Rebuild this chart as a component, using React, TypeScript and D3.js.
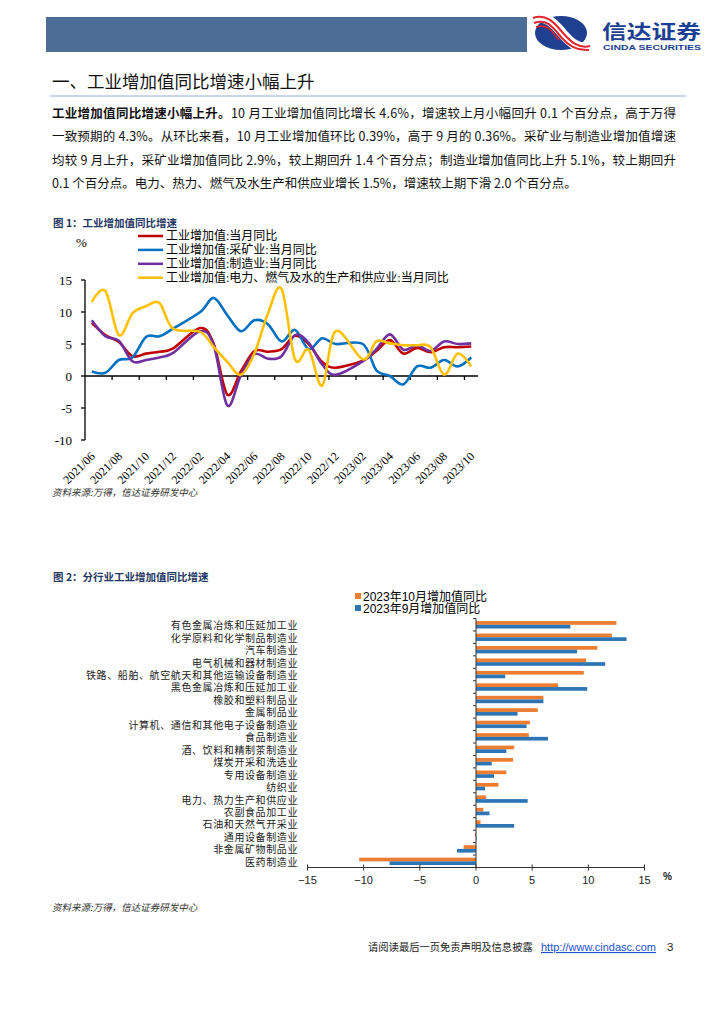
import React from 'react';
import * as d3 from 'd3';

const months = [
  '2021/06','2021/07','2021/08','2021/09','2021/10','2021/11','2021/12',
  '2022/01','2022/02','2022/03','2022/04','2022/05','2022/06','2022/07','2022/08','2022/09','2022/10','2022/11','2022/12',
  '2023/01','2023/02','2023/03','2023/04','2023/05','2023/06','2023/07','2023/08','2023/09','2023/10'
];
const yTicks1 = [-10, -5, 0, 5, 10, 15];

const totalYoY: (number | null)[] = [8.3,6.4,5.3,3.1,3.5,3.8,4.3,null,7.5,5.0,-2.9,0.7,3.9,3.8,4.2,6.3,5.0,2.2,1.3,null,2.4,3.9,5.6,3.5,4.4,3.7,4.5,4.5,4.6];
const miningYoY: (number | null)[] = [0.7,0.5,2.5,2.9,6.1,6.2,7.4,null,10.0,12.2,9.5,7.0,8.7,8.1,5.4,7.2,4.2,5.9,5.0,null,5.0,0.9,0.0,-1.3,1.5,1.3,2.5,1.5,2.9];
const manufYoY: (number | null)[] = [8.7,6.2,5.5,2.3,2.5,2.9,3.6,null,7.0,4.8,-4.6,0.1,3.4,2.7,3.1,6.4,5.2,1.8,0.2,null,2.3,4.2,6.5,4.1,4.8,3.9,5.4,5.0,5.1];
const utilYoY: (number | null)[] = [11.6,13.3,6.4,9.8,10.9,11.4,7.4,null,6.9,4.5,2.2,0.2,3.5,9.8,13.6,2.6,4.1,-1.5,7.0,null,2.6,5.4,5.1,4.8,4.8,4.5,0.2,3.5,1.5];

const seriesNames1 = [
  '工业增加值:当月同比',
  '工业增加值:采矿业:当月同比',
  '工业增加值:制造业:当月同比',
  '工业增加值:电力、燃气及水的生产和供应业:当月同比'
];
const seriesColors1 = ['#C00000', '#0070C0', '#7030A0', '#FFC000'];

const industries = [
  '有色金属冶炼和压延加工业',
  '化学原料和化学制品制造业',
  '汽车制造业',
  '电气机械和器材制造业',
  '铁路、船舶、航空航天和其他运输设备制造业',
  '黑色金属冶炼和压延加工业',
  '橡胶和塑料制品业',
  '金属制品业',
  '计算机、通信和其他电子设备制造业',
  '食品制造业',
  '酒、饮料和精制茶制造业',
  '煤炭开采和洗选业',
  '专用设备制造业',
  '纺织业',
  '电力、热力生产和供应业',
  '农副食品加工业',
  '石油和天然气开采业',
  '通用设备制造业',
  '非金属矿物制品业',
  '医药制造业'
];
const octValues = [12.5,12.1,10.8,9.8,9.6,7.3,6.0,5.5,4.8,4.7,3.4,3.3,2.7,2.0,0.9,0.65,0.4,-0.1,-1.1,-10.4];
const sepValues = [8.4,13.4,9.0,11.5,2.6,9.9,6.0,3.7,4.5,6.4,2.7,1.4,1.6,0.8,4.6,1.2,3.4,0.05,-1.7,-7.7];
const legend2 = ['2023年10月增加值同比', '2023年9月增加值同比'];
const colors2 = ['#ED7D31', '#2E75B6'];
const xTicks2 = [-15, -10, -5, 0, 5, 10, 15];

const paraLines = [
  '10 月工业增加值同比增长 4.6%，增速较上月小幅回升 0.1 个百分点，高于万得',
  '一致预期的 4.3%。从环比来看，10 月工业增加值环比 0.39%，高于 9 月的 0.36%。采矿业与制造业增加值增速',
  '均较 9 月上升，采矿业增加值同比 2.9%，较上期回升 1.4 个百分点；制造业增加值同比上升 5.1%，较上期回升',
  '0.1 个百分点。电力、热力、燃气及水生产和供应业增长 1.5%，增速较上期下滑 2.0 个百分点。'
];

const CJK = '"Noto Sans CJK SC", sans-serif';
const SERIF = '"Liberation Serif", "Noto Sans CJK SC", serif';
const SANS = '"Liberation Sans", "Noto Sans CJK SC", sans-serif';

export default function App() {
  // Chart 1 scales
  const x1 = d3.scaleBand<string>().domain(months).range([85, 478]).padding(0);
  const bw = x1.bandwidth();
  const cx = (i: number) => (x1(months[i]) as number) + bw / 2;
  const y1 = d3.scaleLinear().domain([-10, 15]).range([440, 280]);
  const lineGen = d3.line<[number, number]>().x(d => d[0]).y(d => d[1]).curve(d3.curveCatmullRom.alpha(0));
  const mkPath = (vals: (number | null)[]) => {
    const pts: [number, number][] = [];
    vals.forEach((v, i) => { if (v !== null) pts.push([cx(i), y1(v)]); });
    return lineGen(pts) || '';
  };
  const series1 = [totalYoY, miningYoY, manufYoY, utilYoY];

  // Chart 2 scales
  const x2 = d3.scaleLinear().domain([-15, 15]).range([307.5, 644.5]);
  const y2 = d3.scaleBand<string>().domain(industries).range([618.5, 867.5]);
  const bw2 = y2.bandwidth();

  const paraY = [117.5, 141, 164.5, 188];

  return (
    <svg width={724} height={1024} style={{ position: 'absolute', left: 0, top: 0, background: '#fff' }}>
      {/* Header */}
      <rect x={46} y={17} width={481} height={35} fill="#4C6E96" />
      {/* Logo */}
      <g>
        <ellipse cx={561} cy={33} rx={26} ry={17} fill="#1F3F8F" />
        <path d="M533,19 C548,14 556,26 563,34 C570,42 578,50 590,47" stroke="#ffffff" strokeWidth={10} fill="none" />
        <path d="M533,18 C548,13 556,25 563,33 C570,41 578,49 590,46" stroke="#E0242B" strokeWidth={2} fill="none" />
        <path d="M534,23 C548,18 554,29 561,37 C568,45 576,51 589,50" stroke="#E0242B" strokeWidth={2} fill="none" />
        <path d="M536,27 C548,23 553,33 559,40" stroke="#E0242B" strokeWidth={1.6} fill="none" />
      </g>
      <text x={602} y={39} fontFamily={CJK} fontWeight={700} fontSize={19} fill="#1B3F93" textLength={99} lengthAdjust="spacingAndGlyphs">信达证券</text>
      <text x={603} y={50} fontFamily={SANS} fontWeight={700} fontSize={7.5} fill="#1B3F93" textLength={98} lengthAdjust="spacingAndGlyphs">CINDA SECURITIES</text>

      {/* Section heading */}
      <text x={52} y={88} fontFamily={CJK} fontSize={17.5} fill="#111">一、工业增加值同比增速小幅上升</text>
      <line x1={50} x2={686} y1={96} y2={96} stroke="#C8D7EA" strokeWidth={2} />

      {/* Paragraph */}
      {paraLines.map((l, i) => (
        <text key={i} x={52} y={paraY[i]} fontFamily={CJK} fontSize={12.5} fill="#111"
          {...(i < 3 ? { textLength: 624, lengthAdjust: 'spacing' } : {})}>
          {i === 0 ? <tspan fontWeight={700}>工业增加值同比增速小幅上升。</tspan> : null}
          {l}
        </text>
      ))}

      {/* Chart 1 title */}
      <text x={53} y={227} fontFamily={CJK} fontWeight={700} fontSize={10.5} fill="#1F3864">图 1：工业增加值同比增速</text>
      <text x={76} y={247} fontFamily={SERIF} fontSize={13} fill="#000">%</text>

      {/* Legend 1 */}
      {seriesNames1.map((n, i) => (
        <g key={n}>
          <line x1={138} x2={163} y1={236 + i * 13.9} y2={236 + i * 13.9} stroke={seriesColors1[i]} strokeWidth={2.5} />
          <text x={166} y={236 + i * 13.9 + 4.3} fontFamily={SERIF} fontSize={12} fill="#000">{n}</text>
        </g>
      ))}

      {/* Y axis 1 */}
      <line x1={85} x2={85} y1={y1(15)} y2={y1(-10)} stroke="#000" strokeWidth={1.3} />
      {yTicks1.map(t => (
        <g key={t}>
          <line x1={81} x2={85} y1={y1(t)} y2={y1(t)} stroke="#000" strokeWidth={1.3} />
          <text x={72} y={y1(t) + 4.5} textAnchor="end" fontFamily={SERIF} fontSize={13} fill="#000">{t}</text>
        </g>
      ))}
      {/* X axis 1 */}
      <line x1={85} x2={478} y1={y1(0)} y2={y1(0)} stroke="#000" strokeWidth={1.3} />
      {months.map((m, i) => (i % 2 === 0 && i > 0 ? (
        <line key={m} x1={x1(m) as number} x2={x1(m) as number} y1={y1(0)} y2={y1(0) + 4} stroke="#000" strokeWidth={1.3} />
      ) : null))}
      {months.map((m, i) => (i % 2 === 0 ? (
        <text key={'l' + m} transform={`translate(${cx(i) + 4},${457}) rotate(-45)`} textAnchor="end" fontFamily={SERIF} fontSize={12} fill="#000">{m}</text>
      ) : null))}

      {/* Lines */}
      {series1.map((s, i) => (
        <path key={i} d={mkPath(s)} fill="none" stroke={seriesColors1[i]} strokeWidth={2.6} strokeLinejoin="round" />
      ))}

      <text x={52} y={496} fontFamily={CJK} fontStyle="italic" fontSize={9.5} fill="#333">资料来源:万得，信达证券研发中心</text>

      {/* Chart 2 */}
      <text x={53} y={581} fontFamily={CJK} fontWeight={700} fontSize={10.5} fill="#1F3864">图 2：分行业工业增加值同比增速</text>
      {legend2.map((n, i) => (
        <g key={n}>
          <rect x={355} y={593 + i * 12} width={6} height={6} fill={colors2[i]} />
          <text x={363} y={600.5 + i * 12} fontFamily={SANS} fontSize={12} fill="#000">{n}</text>
        </g>
      ))}
      {industries.map((c, i) => {
        const top = y2(c) as number;
        const o = octValues[i], s = sepValues[i];
        return (
          <g key={c}>
            <rect x={Math.min(x2(0), x2(o))} y={top + 2.6} width={Math.abs(x2(o) - x2(0))} height={3.7} fill={colors2[0]} />
            <rect x={Math.min(x2(0), x2(s))} y={top + 6.3} width={Math.abs(x2(s) - x2(0))} height={3.7} fill={colors2[1]} />
            <text x={298} y={top + bw2 / 2} dominantBaseline="central" textAnchor="end" fontFamily={CJK} fontSize={10} letterSpacing={0.6} fill="#222">{c}</text>
          </g>
        );
      })}
      <line x1={x2(0)} x2={x2(0)} y1={618.5} y2={867.5} stroke="#333" strokeWidth={1} />
      {d3.range(industries.length + 1).map(k => (
        <line key={k} x1={x2(0) - 3} x2={x2(0)} y1={618.5 + k * bw2} y2={618.5 + k * bw2} stroke="#333" strokeWidth={1} />
      ))}
      <line x1={x2(-15)} x2={x2(15)} y1={867.5} y2={867.5} stroke="#333" strokeWidth={1.2} />
      {xTicks2.map(t => (
        <g key={t}>
          <line x1={x2(t)} x2={x2(t)} y1={864.5} y2={870.5} stroke="#333" strokeWidth={1} />
          <text x={x2(t)} y={884} textAnchor="middle" fontFamily={SANS} fontSize={11} fill="#222">{d3.format('d')(t)}</text>
        </g>
      ))}
      <text x={663} y={880} fontFamily={SANS} fontWeight={700} fontSize={10} fill="#222">%</text>

      <text x={52} y={911} fontFamily={CJK} fontStyle="italic" fontSize={9.5} fill="#333">资料来源:万得，信达证券研发中心</text>

      {/* Footer */}
      <text x={368} y={951} fontFamily={CJK} fontSize={10.3} fill="#222">请阅读最后一页免责声明及信息披露</text>
      <text x={541} y={951} fontFamily={SANS} fontSize={11} fill="#1F4FD0" textDecoration="underline">http://www.cindasc.com</text>
      <text x={667} y={951} fontFamily={SANS} fontSize={11.5} fill="#222">3</text>
    </svg>
  );
}
